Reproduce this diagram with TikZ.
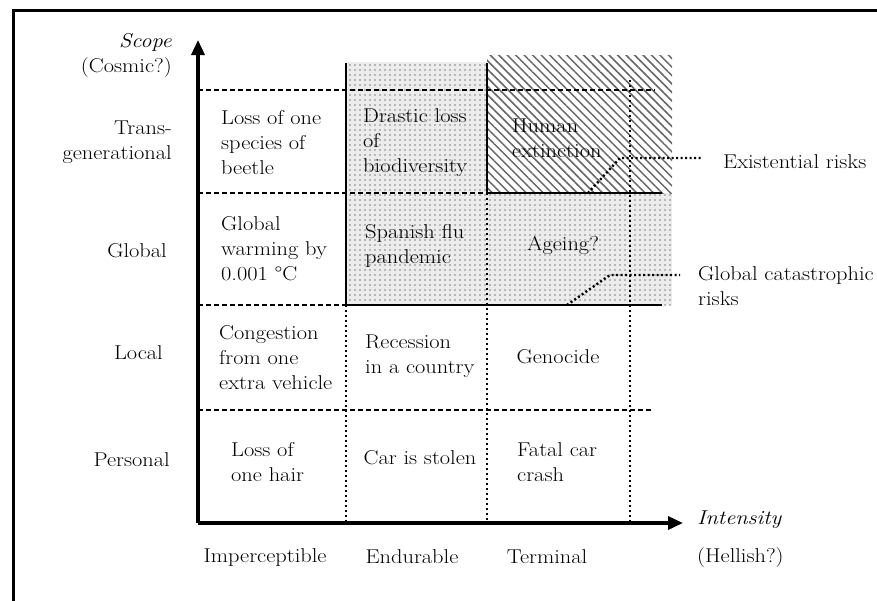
\documentclass[tikz,border=0pt]{standalone}
\usepackage{fontspec}
\setmainfont{Latin Modern Roman}[FakeStretch=1.12]
\usepackage{tikz}
\usetikzlibrary{arrows.meta,positioning,patterns.meta}
\newcommand{\chartfont}{\fontsize{20}{25}\selectfont}

\begin{document}
\begin{tikzpicture}[x=1pt,y=-1pt,
    axis/.style={line width=3.5pt,-{Triangle[length=15pt,width=13pt]}},
    gridline/.style={line width=1.4pt,dash pattern=on 5pt off 3pt},
    dotline/.style={line width=2.2pt,dash pattern=on 2pt off 3pt},
    edge/.style={line width=1.6pt},
    pointer/.style={line width=2.4pt,dash pattern=on 2pt off 2.5pt},
    lbl/.style={font=\chartfont,inner sep=0pt},
    cell/.style={lbl,align=left,anchor=west},
    rowlbl/.style={lbl,align=right,anchor=east}]
    \useasboundingbox (0,0) rectangle (877,600);
    % frame
    \draw[line width=3pt] (13,605) -- (13,10) -- (882,10);
    % axes corners
    \coordinate (O) at (198,523);
    \coordinate (Ytop) at (198,40);
    \coordinate (Xend) at (683,523);
    % shaded regions
    \fill[gray!15] (346,62) rectangle (672,305);
    \fill[pattern={Dots[distance=5pt,radius=0.9pt]},pattern color=gray] (346,62) rectangle (672,305);
    \fill[white] (487,55) rectangle (672,193);
    \fill[pattern={Lines[angle=-45,distance=6pt,line width=1.5pt]},pattern color=gray!80!black] (487,55) rectangle (672,193);
    \draw[edge] (346,63) -- (346,305) -- (662,305);
    \draw[edge] (487,63) -- (487,193) -- (662,193);
    % grid
    \draw[gridline] (198,90) -- (655,90);
    \draw[gridline] (198,193) -- (487,193);
    \draw[gridline] (198,305) -- (346,305);
    \draw[gridline] (198,410) -- (652,410);
    \draw[dotline] (346,305) -- (346,523);
    \draw[dotline] (487,193) -- (487,523);
    \draw[dotline] (630,80) -- (630,523);
    \draw[axis] (O) -- (Ytop);
    \draw[axis] (O) -- (Xend);
    % pointers
    \coordinate (exFoot) at (588,193);
    \coordinate (exBend) at (620,158);
    \coordinate (exTip) at (703,158);
    \coordinate (gcFoot) at (567,305);
    \coordinate (gcBend) at (610,275);
    \coordinate (gcTip) at (680,275);
    \draw[pointer] (exFoot) -- (exBend) -- (exTip);
    \draw[pointer] (gcFoot) -- (gcBend) -- (gcTip);
    \node[lbl,right=20pt of exTip,yshift=-4pt] (exist) {Existential risks};
    \node[lbl,align=left,anchor=north west] (gcat) at (698,266) {Global catastrophic\\risks};
    % axis labels
    \node[rowlbl] (scope) at (172,55) {\textit{Scope}\\(Cosmic?)};
    \node[rowlbl] (trans) at (172,142) {Trans-\\generational};
    \node[rowlbl] (global) at (167,251) {Global};
    \node[rowlbl] (local) at (163,353) {Local};
    \node[rowlbl] (personal) at (170,460) {Personal};
    \node[lbl] (imp) at (265,557) {Imperceptible};
    \node[lbl] (end) at (412,557) {Endurable};
    \node[lbl] (term) at (547,557) {Terminal};
    \node[lbl,anchor=west] (intens) at (697,520) {\textit{Intensity}};
    \node[lbl,anchor=west] (hell) at (697,557) {(Hellish?)};
    % cells
    \node[cell] (beetle) at (221,143) {Loss of one\\species of\\beetle};
    \node[cell] (biodiv) at (363,143) {Drastic loss\\of\\biodiversity};
    \node[cell] (human) at (512,138) {Human\\extinction};
    \node[cell] (warming) at (221,249) {Global\\warming by\\0.001 °C};
    \node[cell] (flu) at (365,246) {Spanish flu\\pandemic};
    \node[lbl] (ageing) at (563,245) {Ageing?};
    \node[cell] (congest) at (219,358) {Congestion\\from one\\extra vehicle};
    \node[cell] (recess) at (365,356) {Recession\\in a country};
    \node[lbl] (genocide) at (558,357) {Genocide};
    \node[cell] (hair) at (231,462) {Loss of\\one hair};
    \node[lbl] (stolen) at (420,458) {Car is stolen};
    \node[cell] (crash) at (517,462) {Fatal car\\crash};
\end{tikzpicture}
\end{document}
